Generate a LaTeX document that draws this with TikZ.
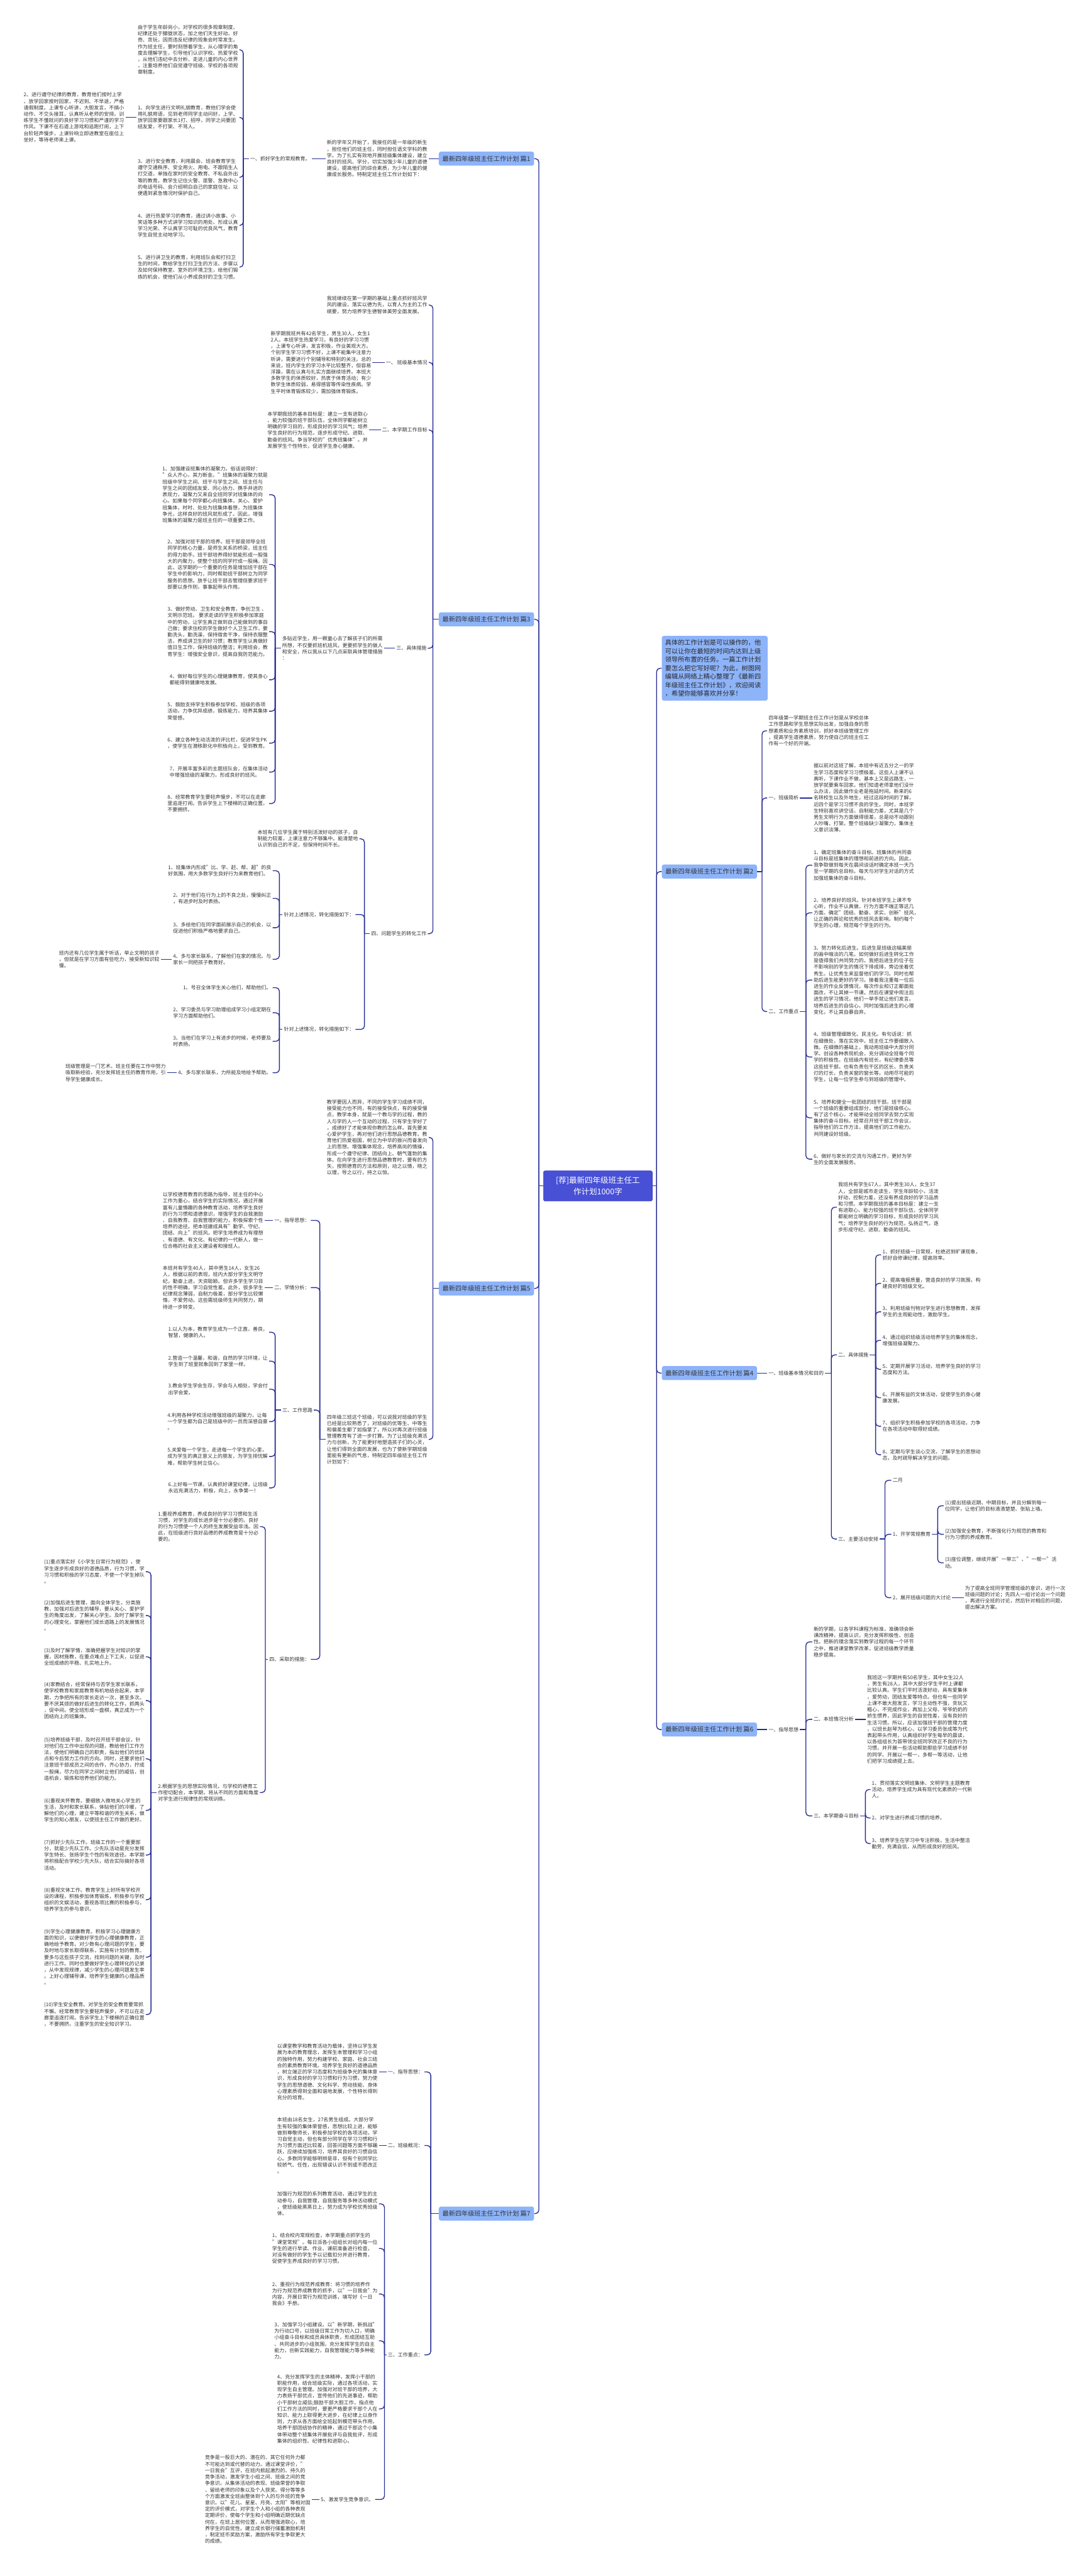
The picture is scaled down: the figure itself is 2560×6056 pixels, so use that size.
\documentclass[tikz,border=0pt]{standalone}
\usepackage{fontspec}
\setmainfont{Noto Sans CJK SC}
\usepackage{tikz}

\definecolor{linkc}{RGB}{40,46,148}
\definecolor{rootc}{RGB}{72,80,214}
\definecolor{rootd}{RGB}{60,66,190}
\definecolor{topicc}{RGB}{141,179,249}
\definecolor{inkc}{RGB}{51,51,51}

\tikzset{
  link/.style={draw=linkc, line width=2pt, rounded corners=8pt},
  txt/.style={font=\fontsize{11.8pt}{15.1pt}\selectfont, align=left, text=inkc, inner xsep=3pt, inner ysep=2pt},
  lnode/.style={txt, anchor=east},
  rnode/.style={txt, anchor=west},
  topic/.style={fill=topicc, rounded corners=5pt, minimum width=224pt, minimum height=33pt, inner sep=0pt, text=inkc, font=\fontsize{15pt}{18pt}\selectfont},
  root/.style={fill=rootc, draw=rootd, line width=1pt, rounded corners=4pt, minimum width=256pt, minimum height=71pt, align=center, text=white, font=\fontsize{18.5pt}{26.5pt}\selectfont},
  intro/.style={fill=topicc, rounded corners=5pt, anchor=west, align=left, text width=233pt, inner xsep=8pt, inner ysep=9pt, text=black!85, font=\fontsize{15pt}{20pt}\selectfont}
}

% fan of connectors from a parent to its children through one trunk
\newcommand{\fanL}[3]{%
  \draw[link] (#1.west) -- (#1.west -| #2,0);
  \foreach \kid in {#3}{\draw[link] (#1.west -| #2,0) |- (\kid.east);}}
\newcommand{\fanR}[3]{%
  \draw[link] (#1.east) -- (#1.east -| #2,0);
  \foreach \kid in {#3}{\draw[link] (#1.east -| #2,0) |- (\kid.west);}}

\begin{document}
\begin{tikzpicture}[x=1pt,y=-1pt]
	\fill[white] (0,0) rectangle (2560,6056);
	\useasboundingbox (0,0) rectangle (2560,6056);

	\node[root] (root) at (1406,2788) {[荐]最新四年级班主任工\\作计划1000字};

	\node[topic, anchor=east] (p1) at (1256,373) {最新四年级班主任工作计划 篇1};
	\node[topic, anchor=east] (p3) at (1256,1456) {最新四年级班主任工作计划 篇3};
	\node[topic, anchor=east] (p5) at (1256,3029) {最新四年级班主任工作计划 篇5};
	\node[topic, anchor=east] (p7) at (1256,5204) {最新四年级班主任工作计划 篇7};
	\node[intro] (intro) at (1556,1571) {具体的工作计划是可以操作的，他\\可以让你在最短的时间内达到上级\\领导所布置的任务。一篇工作计划\\要怎么把它写好呢？为此，树图网\\编辑从网络上精心整理了《最新四\\年级班主任工作计划》，欢迎阅读\\，希望你能够喜欢并分享！};
	\node[topic, anchor=west] (p2) at (1556,2049) {最新四年级班主任工作计划 篇2};
	\node[topic, anchor=west] (p4) at (1556,3228) {最新四年级班主任工作计划 篇4};
	\node[topic, anchor=west] (p6) at (1556,4066) {最新四年级班主任工作计划 篇6};

	\fanL{root}{1267}{p1,p3,p5,p7}
	\fanR{root}{1544}{intro,p2,p4,p6}

	% 篇1
	\node[lnode] (n1) at (1008,373) {新的学年又开始了，我接任的是一年级的新生\\，担任他们的班主任，同时担任语文学科的教\\学。为了扎实有效地开展班级集体建设，建立\\良好的班风、学分，切实加强少年儿童的道德\\建设，提高他们的综合素质，为少年儿童的健\\康成长服务。特制定班主任工作计划如下：};
	\node[lnode] (n1a) at (733,373) {一、抓好学生的常规教育。};
	\node[lnode] (n1a1) at (563,117) {由于学生年龄尚小，对学校的很多规章制度、\\纪律还处于朦胧状态，加之他们天生好动、好\\奇、贪玩，因而违反纪律的现象会时常发生。\\作为班主任，要时刻想着学生，从心理学的角\\度去理解学生，引导他们认识学校、热爱学校\\，从他们违纪中去分析、走进儿童的内心世界\\，注重培养他们自觉遵守班级、学校的各项规\\章制度。};
	\node[lnode] (n1a2) at (563,276) {1、向学生进行文明礼貌教育，教他们学会使\\用礼貌用语，见到老师同学主动问好，上学、\\放学回家要跟家长1打、招呼，同学之间要团\\结友爱，不打架、不骂人。};
	\node[lnode] (n1a2a) at (295,276) {2、进行遵守纪律的教育，教育他们按时上学\\、放学回家按时回家，不迟到、不早退，严格\\请假制度。上课专心听讲，大胆发言，不搞小\\动作、不交头接耳，认真听从老师的安排。训\\练学生不懂就问的良好学习习惯和严谨的学习\\作风。下课不在石道上游戏和追跑打闹，上下\\台阶轻声慢步，上课铃响立即进教室在座位上\\坐好，等待老师来上课。};
	\node[lnode] (n1a3) at (563,417) {3、进行安全教育，利用晨会、班会教育学生\\遵守交通秩序、安全用火、用电、不跟陌生人\\打交道，单独在家时的安全教育、不私自外出\\等的教育。教学生记住火警、匪警、急救中心\\的电话号码、会介绍明白自己的家庭住址，以\\便遇到紧急情况时保护自己。};
	\node[lnode] (n1a4) at (563,530) {4、进行热爱学习的教育，通过讲小故事、小\\笑话等多种方式讲学习知识的用处、形成认真\\学习光荣、不认真学习可耻的优良风气，教育\\学生自觉主动地学习。};
	\node[lnode] (n1a5) at (563,628) {5、进行讲卫生的教育，利用班队会和打扫卫\\生的时间，教给学生打扫卫生的方法、步骤以\\及如何保持教室、室外的环境卫生，给他们锻\\炼的机会，使他们从小养成良好的卫生习惯。};
	\draw[link] (p1.west) -- (n1.east);
	\draw[link] (n1.west) -- (n1a.east);
	\fanL{n1a}{572}{n1a1,n1a2,n1a3,n1a4,n1a5}
	\draw[link] (n1a2.west) -- (n1a2a.east);

	% 篇3
	\node[lnode] (n3a) at (1008,717) {我班继续在第一学期的基础上重点抓好班风学\\风的建设，落实以德为先，以育人为主的工作\\纲要，努力培养学生德智体美劳全面发展。};
	\node[lnode] (n3b) at (1008,852) {一、 班级基本情况};
	\node[lnode] (n3b1) at (876,852) {新学期我班共有42名学生，男生30人，女生1\\2人。本班学生热爱学习，有良好的学习习惯\\，上课专心听讲，发言积极，作业美观大方。\\个别学生学习习惯不好，上课不能集中注意力\\听讲，需要进行个别辅导和特别的关注。总的\\来说，班内学生的学习水平比较整齐，但容易\\浮躁，需在认真与扎实方面继续培养。本班大\\多数学生的体质较好，热衷于体育活动；有少\\数学生体质较弱，易得感冒等传染性疾病。学\\生平时体育锻炼较少，需加强体育锻炼。};
	\node[lnode] (n3c) at (1008,1011) {二、本学期工作目标};
	\node[lnode] (n3c1) at (868,1011) {本学期我班的基本目标是：建立一支有进取心\\、能力较强的班干部队伍，全体同学都能树立\\明确的学习目的，形成良好的学习风气；培养\\学生良好的行为规范，逐步形成守纪、进取、\\勤奋的班风。争当学校的"优秀班集体"。并\\发展学生个性特长，促进学生身心健康。};
	\node[lnode] (n3d) at (1006,1524) {三、具体措施};
	\node[lnode] (n3d1) at (903,1524) {多贴近学生，用一颗童心去了解孩子们的所需\\所想，不仅要抓班机班风，更要抓学生的做人\\和安全，所以我从以下几点采取具体管理措施\\：};
	\node[lnode] (n3d1a) at (633,1163) {1、加强建设班集体的凝聚力。俗话说得好：\\"众人齐心，其力断金。"班集体的凝聚力就是\\班级中学生之间、班干与学生之间、班主任与\\学生之间的团结友爱、同心协力、携手并进的\\表现力，凝聚力又来自全班同学对班集体的向\\心。如果每个同学都心向班集体，关心、爱护\\班集体，时时、处处为班集体着想，为班集体\\争光，这样良好的班风就形成了。因此，增强\\班集体的凝聚力是班主任的一项重要工作。};
	\node[lnode] (n3d1b) at (633,1327) {2、加强对班干部的培养。班干部是领导全班\\同学的核心力量，是师生关系的桥梁，班主任\\的得力助手。班干部培养得好就能形成一股强\\大的内聚力，使整个班的同学拧成一股绳。因\\此，这学期的一个重要的任务是增加班干部在\\学生中的影响力，同时帮助班干部树立为同学\\服务的思想。放手让班干部去管理但要求班干\\部要以身作则，事事起带头作用。};
	\node[lnode] (n3d1c) at (633,1485) {3、做好劳动、卫生和安全教育。争创卫生 、\\文明示范班。 要求走读的学生积极参加家庭\\中的劳动，让学生真正做到自己能做到的事自\\己做；要求住校的学生做好个人卫生工作，要\\勤洗头，勤洗澡，保持宿舍干净，保持衣服整\\洁，养成讲卫生的好习惯；教育学生认真做好\\值日生工作，保持班级的整洁；利用班会，教\\育学生：增强安全意识，提高自我防范能力。};
	\node[lnode] (n3d1d) at (633,1598) {4、做好每位学生的心理健康教育，使其身心\\都能得到健康地发展。};
	\node[lnode] (n3d1e) at (633,1672) {5、鼓励支持学生积极参加学校、班级的各项\\活动，力争优异成绩，锻炼能力，培养其集体\\荣誉感。};
	\node[lnode] (n3d1f) at (633,1747) {6、建立各种生动活泼的评比栏，促进学生PK\\，使学生在潜移默化中积极向上，受到教育。};
	\node[lnode] (n3d1g) at (633,1815) {7、开展丰富多彩的主题班队会，在集体活动\\中增强班级的凝聚力，形成良好的班风。};
	\node[lnode] (n3d1h) at (633,1889) {8、经常教育学生要轻声慢步，不可以在走廊\\里追逐打闹。告诉学生上下楼梯的正确位置，\\不要拥挤。};
	\node[lnode] (n3e) at (1006,2195) {四、问题学生的转化工作};
	\node[lnode] (n3e1) at (845,1972) {本班有几位学生属于特别活泼好动的孩子，自\\制能力较差，上课注意力不够集中。能清楚地\\认识到自己的不足，但保持时间不长。};
	\node[lnode] (n3e2) at (836,2150) {针对上述情况，转化措施如下：};
	\node[lnode] (n3e2a) at (641,2047) {1、班集体内形成"比、学、赶、帮、超"的良\\好氛围，用大多数学生良好行为来教育他们。};
	\node[lnode] (n3e2b) at (641,2112) {2、对于他们在行为上的不良之处，慢慢纠正\\，有进步时及时表扬。};
	\node[lnode] (n3e2c) at (641,2181) {3、多给他们在同学面前展示自己的机会，以\\促进他们积极严格地要求自己。};
	\node[lnode] (n3e2d) at (641,2255) {4、多与家长联系，了解他们在家的情况。与\\家长一同把孩子教育好。};
	\node[lnode] (n3e2e) at (378,2255) {班内还有几位学生属于听话，举止文明的孩子\\，但就是在学习方面有些吃力，接受新知识较\\慢。};
	\node[lnode] (n3e3) at (836,2420) {针对上述情况，转化措施如下：};
	\node[lnode] (n3e3a) at (641,2322) {1、号召全体学生关心他们，帮助他们。};
	\node[lnode] (n3e3b) at (641,2381) {2、学习委员与学习助理组成学习小组定期在\\学习方面帮助他们。};
	\node[lnode] (n3e3c) at (641,2448) {3、当他们在学习上有进步的时候，老师要及\\时表扬。};
	\node[lnode] (n3e3d) at (641,2522) {4、多与家长联系，力所能及地给予帮助。};
	\node[lnode] (n3e3e) at (393,2522) {班级管理是一门艺术。班主任要在工作中努力\\吸取新经验，充分发挥班主任的教育作用，引\\导学生健康成长。};
	\fanL{p3}{1018}{n3a,n3b,n3c,n3d,n3e}
	\draw[link] (n3b.west) -- (n3b1.east);
	\draw[link] (n3c.west) -- (n3c1.east);
	\draw[link] (n3d.west) -- (n3d1.east);
	\fanL{n3d1}{647}{n3d1a,n3d1b,n3d1c,n3d1d,n3d1e,n3d1f,n3d1g,n3d1h}
	\fanL{n3e}{857}{n3e1,n3e2,n3e3}
	\fanL{n3e2}{657}{n3e2a,n3e2b,n3e2c,n3e2d}
	\draw[link] (n3e2d.west) -- (n3e2e.east);
	\fanL{n3e3}{657}{n3e3a,n3e3b,n3e3c,n3e3d}
	\draw[link] (n3e3d.west) -- (n3e3e.east);

	% 篇5
	\node[lnode] (n5a) at (1008,2674) {教学要因人而异，不同的学生学习成绩不同，\\接受能力也不同，有的接受快点，有的接受慢\\点，教学本身，就是一个教与学的过程，教的\\人与学的人一个互动的过程，只有学生学好了\\，成绩好了才能体现你教的怎么样。首先要关\\心爱护学生，再对他们进行思想品德教育。教\\育他们热爱祖国，树立为中华的振兴而奋发向\\上的思想。增强集体观念，培养高尚的情操，\\形成一个遵守纪律、团结向上、朝气蓬勃的集\\体。在向学生进行思想品德教育时，要有的方\\矢，按照德育的方法和原则，动之以情，晓之\\以理，导之以行，持之以恒。};
	\node[lnode] (n5b) at (1008,3384) {四年级三班这个班级，可以说我对班级的学生\\已经是比较熟悉了，对班级的优等生、中等生\\和偏差生都了如指掌了，所以对再次进行班级\\管理教育有了进一步打算。为了让班级充满活\\力与创新，为了能更好地塑造孩子们的心灵，\\让他们得到全面的发展，也为了使新学期班级\\里能有更新的气息，特制定四年级班主任工作\\计划如下：};
	\node[lnode] (n5b1) at (731,2869) {一、指导思想：};
	\node[lnode] (n5b1a) at (622,2869) {以学校德育教育的思路为指导，班主任的中心\\工作为重心，结合学生的实际情况，通过开展\\富有儿童情趣的各种教育活动，培养学生良好\\的行为习惯和道德意识，增强学生的自我激励\\、自我教育、自我管理的能力，积极探索个性\\培养的途径。把本班建成具有"勤学、守纪、\\团结、向上"的班风，把学生培养成为有理想\\、有道德、有文化、有纪律的一代新人，做一\\位合格的社会主义建设者和接班人。};
	\node[lnode] (n5b2) at (731,3027) {二、学情分析：};
	\node[lnode] (n5b2a) at (622,3027) {本班共有学生40人，其中男生14人，女生26\\人，根据以前的表现，班内大部分学生文明守\\纪，勤奋上进，天资聪颖。但许多学生学习目\\的性不明确，学习自觉性差。此外，很多学生\\纪律观念薄弱，自制力极差，部分学生比较懒\\惰，不爱劳动。这些需班级师生共同努力，期\\待进一步转变。};
	\node[lnode] (n5b3) at (738,3315) {三、工作思路};
	\node[lnode] (n5b3a) at (633,3132) {1.以人为本，教育学生成为一个正直，善良，\\智慧，健康的人。};
	\node[lnode] (n5b3b) at (633,3200) {2.营造一个温馨，和谐，自然的学习环境，让\\学生到了班里就象回到了家里一样。};
	\node[lnode] (n5b3c) at (633,3266) {3.教会学生学会生存，学会与人相处，学会付\\出学会爱。};
	\node[lnode] (n5b3d) at (633,3342) {4.利用各种学校活动增强班级的凝聚力，让每\\一个学生都为自己是班级中的一员而深感自豪\\。};
	\node[lnode] (n5b3e) at (633,3424) {5.关爱每一个学生，走进每一个学生的心里，\\成为学生的真正意义上的朋友，为学生排忧解\\难，帮助学生树立信心。};
	\node[lnode] (n5b3f) at (633,3498) {6.上好每一节课，认真抓好课堂纪律，让班级\\永远充满活力，积极，向上，永争第一！};
	\node[lnode] (n5b4) at (731,3901) {四、采取的措施：};
	\node[lnode] (n5b4a) at (611,3589) {1.重视养成教育，养成良好的学习习惯和生活\\习惯，对学生的成长进步是十分必要的。良好\\的行为习惯使一个人的终生发展受益非浅。因\\此，在班级进行良好品德的养成教育是十分必\\要的。};
	\node[lnode] (n5b4b) at (611,4214) {2.根据学生的思想实际情况，与学校的德育工\\作密切配合，本学期，将从不同的方面和角度\\对学生进行规律性的常规训练。};
	\node[lnode] (m1) at (343,3695) {(1)重点落实好《小学生日常行为规范》，使\\学生逐步形成良好的道德品质，行为习惯，学\\习习惯和积极的学习态度，不使一个学生掉队\\。};
	\node[lnode] (m2) at (343,3798) {(2)加强后进生管理，面向全体学生，分类施\\教，加强对后进生的辅导，要从关心、爱护学\\生的角度出发，了解关心学生。及时了解学生\\的心理变化，掌握他们成长道路上的发展情况\\。};
	\node[lnode] (m3) at (343,3895) {(3)及时了解学情，准确把握学生对知识的掌\\握，因材施教，在重点难点上下工夫，以促进\\全班成绩的平稳、扎实地上升。};
	\node[lnode] (m4) at (343,3998) {(4)家教结合，经常保持与否学生家长联系，\\使学校教育和家庭教育有机地结合起来，本学\\期，力争把所有的家长走访一次，甚至多次。\\要不厌其烦的做好后进生的转化工作，抓两头\\，促中间。使全班形成一盘棋，真正成为一个\\团结向上的班集体。};
	\node[lnode] (m5) at (343,4135) {(5)培养班级干部，及时召开班干部会议，针\\对他们在工作中出现的问题，教给他们工作方\\法，使他们明确自己的职责，指出他们的优缺\\点和今后努力工作的方向。同时，还要求他们\\注意班干部成员之间的合作，齐心协力，拧成\\一股绳，尽力在同学之间树立他们的威信，创\\造机会，锻炼和培养他们的能力。};
	\node[lnode] (m6) at (343,4256) {(6)重视关怀教育。要细致入微地关心学生的\\生活，及时和家长联系，体贴他们的冷暖，了\\解他们的心理，建立平等和谐的师生关系，做\\学生的知心朋友，以使班主任工作做的更好。};
	\node[lnode] (m7) at (343,4361) {(7)抓好少先队工作。班级工作的一个重要部\\分，就是少先队工作。少先队活动是充分发挥\\学生特长、张扬学生个性的有效途径。本学期\\将积极配合学校少先大队，结合实际搞好各项\\活动。};
	\node[lnode] (m8) at (343,4466) {(8)重视文体工作。教育学生上好所有学校开\\设的课程，积极参加体育锻炼，积极参与学校\\组织的文娱活动，重视各项比赛的积极参与，\\培养学生的参与意识。};
	\node[lnode] (m9) at (343,4601) {(9)学生心理健康教育。积极学习心理健康方\\面的知识，以便做好学生的心理健康教育，正\\确地给予教育。对少数有心理问题的学生，要\\及时地与家长取得联系，实施有计划的教育。\\要多与这些孩子交流，找到问题的关键，及时\\进行工作。同时也要做好学生心理转化的记录\\，从中发现规律，减少学生的心理问题发生率\\。上好心理辅导课，培养学生健康的心理品质\\。};
	\node[lnode] (m10) at (343,4736) {(10)学生安全教育。对学生的安全教育要常抓\\不懈。经常教育学生要轻声慢步，不可以在走\\廊里追逐打闹。告诉学生上下楼梯的正确位置\\，不要拥挤。注重学生的安全知识学习。};
	\fanL{p5}{1018}{n5a,n5b}
	\fanL{n5b}{752}{n5b1,n5b2,n5b3,n5b4}
	\draw[link] (n5b1.west) -- (n5b1a.east);
	\draw[link] (n5b2.west) -- (n5b2a.east);
	\fanL{n5b3}{647}{n5b3a,n5b3b,n5b3c,n5b3d,n5b3e,n5b3f}
	\fanL{n5b4}{624}{n5b4a,n5b4b}
	\fanL{n5b4b}{355}{m1,m2,m3,m4,m5,m6,m7,m8,m9,m10}

	% 篇7
	\node[lnode] (n7a) at (998,4871) {一、指导思想：};
	\node[lnode] (n7a1) at (891,4871) {以课堂教学和教育活动为载体，坚持以学生发\\展为本的教育理念，发挥生本管理和学习小组\\的独特作用，努力构建学校、家庭、社会三结\\合的素质教育环境。培养学生良好的道德品质\\，树立端正的学习态度和为班级争光的集体意\\识，形成良好的学习习惯和行为习惯，努力使\\学生的思想道德、文化科学、劳动技能、身体\\心理素质得到全面和谐地发展，个性特长得到\\充分的培育。};
	\node[lnode] (n7b) at (998,5044) {二、班级概况：};
	\node[lnode] (n7b1) at (891,5044) {本班由18名女生，27名男生组成。大部分学\\生有较强的集体荣誉感，思想比较上进，能够\\做到尊敬师长，积极参加学校的各项活动，学\\习自觉主动，但也有部分同学在学习习惯和行\\为习惯方面还比较差，回答问题等方面不够踊\\跃，应继续加强练习，培养其良好的习惯自信\\心。多数同学能够明辨是非，但有个别同学比\\较娇气、任性，出现错误认识不到或不愿改正\\。};
	\node[lnode] (n7c) at (998,5536) {三、工作重点：};
	\node[lnode] (n7c1) at (891,5181) {加强行为规范的系列教育活动，通过学生的主\\动参与，自我管理，自我服务等多种活动模式\\，使班级能蒸蒸日上，努力成为学校优秀班级\\体。};
	\node[lnode] (n7c2) at (891,5286) {1、结合校内常规检查，本学期重点抓学生的\\"课堂常规"。每日派各小组组长对组内每一位\\学生的进行早读、作业、课前准备进行检查，\\对没有做好的学生予以记载扣分并进行教育，\\促使学生养成良好的学习习惯。};
	\node[lnode] (n7c3) at (891,5393) {2、重视行为规范养成教育：将习惯的培养作\\为行为规范养成教育的抓手，以"一日我会"为\\内容，开展日常行为规范训练，填写好《一日\\我会》手册。};
	\node[lnode] (n7c4) at (891,5503) {3、加强学习小组建设。以"新学期，新挑战"\\为行动口号，以班级日常工作为切入口，明确\\小组奋斗目标和成员具体职责，形成团结互助\\、共同进步的小组氛围，充分发挥学生的自主\\能力，创新实践能力，自我管理能力等多种能\\力。};
	\node[lnode] (n7c5) at (891,5663) {4、充分发挥学生的主体精神，发挥小干部的\\职能作用，结合班级实际，通过各项活动，实\\现学生自主管理。加强对对班干部的培养，大\\力表扬干部优点，宣传他们的先进事迹，帮助\\小干部树立威信;鼓励干部大胆工作，指点他\\们工作方法的同时，要更严格要求干部个人在\\知识、能力上取得更大进步，在纪律上以身作\\则，力求从各方面给全班起到模范带头作用，\\培养干部团结协作的精神，通过干部这个小集\\体带动整个班集体开展批评与自我批评，形成\\集体的组织性、纪律性和进取心。};
	\node[lnode] (n7c6) at (882,5876) {5、激发学生竞争意识。};
	\node[lnode] (n7c6a) at (733,5876) {竞争是一股巨大的、潜在的、其它任何外力都\\不可能达到或代替的动力。通过课堂评价，"\\一日我会"互评，在班内掀起激烈的、持久的\\竞争活动，激发学生小组之间、班级之间的竞\\争意识。从集体活动的表现、班级荣誉的争取\\、留给老师的印象以及个人获奖、得分等等多\\个方面激发全班由整体到个人的与外班的竞争\\意识。以"花儿、星星、月亮、太阳"等相对固\\定的评价模式，对学生个人和小组的各种表现\\定期评价，使每个学生和小组明确近期优缺点\\何在，在班上居何位置，从而增强进取心，培\\养学生的自觉性。建立成长银行储蓄激励机制\\，制定班币奖励方案，激励所有学生争取更大\\的成绩。};
	\fanL{p7}{1013}{n7a,n7b,n7c}
	\draw[link] (n7a.west) -- (n7a1.east);
	\draw[link] (n7b.west) -- (n7b1.east);
	\fanL{n7c}{904}{n7c1,n7c2,n7c3,n7c4,n7c5,n7c6}
	\draw[link] (n7c6.west) -- (n7c6a.east);

	% 篇2
	\node[rnode] (n2a) at (1804,1718) {四年级第一学期班主任工作计划是从学校总体\\工作思路和学生思想实际出发，加强自身的思\\想素质和业务素质培训，抓好本班级管理工作\\，提高学生道德素质，努力使自己的班主任工\\作有一个好的开端。};
	\node[rnode] (n2b) at (1804,1876) {一、班级简析};
	\node[rnode] (n2b1) at (1910,1876) {据以前对这班了解，本班中有近五分之一的学\\生学习态度和学习习惯极差。这些人上课不认\\真听，下课作业不做，基本上又是远路生，一\\放学就要乘车回家。他们知道老师拿他们没什\\么办法，因此做作业老是拖延时间。新来的6\\名转校生以及外地生，经过这段时间的了解，\\近四个是学习习惯不良的学生。同时，本班学\\生特别喜欢讲空话，自制能力差，尤其是几个\\男生文明行为方面做得很差，总是动不动跟别\\人吵嘴，打架。整个班级缺少凝聚力，集体主\\义意识淡薄。};
	\node[rnode] (n2c) at (1804,2378) {二、工作重点};
	\node[rnode] (n2c1) at (1910,2034) {1、确定班集体的奋斗目标。班集体的共同奋\\斗目标是班集体的理想和前进的方向。因此，\\我争取做到每天在晨间谈话时确定本班一天乃\\至一学期的总目标。每天与对学生对话的方式\\加强班集体的奋斗目标。};
	\node[rnode] (n2c2) at (1910,2146) {2、培养良好的班风。针对本班学生上课不专\\心听，作业不认真做，行为方面不端正等这几\\方面。确定"团结、勤奋、求实、创新"班风，\\让正确的舆论和优秀的班风去影响，制约每个\\学生的心理，规范每个学生的行为。};
	\node[rnode] (n2c3) at (1910,2304) {3、努力转化后进生。后进生是班级这幅美丽\\的画中暗淡的几笔。如何做好后进生转化工作\\是值得我们共同努力的。我把后进生的位子在\\不影响别的学生的情况下排成排，旁边坐着优\\秀生。让优秀生来监督他们的学习。同时也帮\\助后进生能更好的学习。接着我注重每一位后\\进生的作业反馈情况，每次作业和订正都面批\\面改，不让其掉一节课。然后在课堂中观注后\\进生的学习情况，他们一举手就让他们发言。\\培养后进生的自信心。同时加强后进生的心理\\变化，不让其自暴自弃。};
	\node[rnode] (n2c4) at (1910,2485) {4、班级管理细致化、民主化。有句话说：抓\\在细微处，落在实效中。班主任工作要细致入\\微。在细微的基础上，我动用班级中大部分同\\学。创设各种表现机会，充分调动全班每个同\\学的积极性。在班级内有班长，有纪律委员等\\这些班干部。也有负责包干区的区长，负责关\\灯的灯长，负责关窗的窗长等。动用尽可能的\\学生，让每一位学生参与到班级的管理中。};
	\node[rnode] (n2c5) at (1910,2628) {5、培养和健全一批团结的班干部。班干部是\\一个班级的重要组成部分，他们是班级核心。\\有了这个核心，才能带动全班同学去努力实现\\集体的奋斗目标。经常召开班干部工作会议，\\指导他们的工作方法，提高他们的工作能力。\\共同建设好班级。};
	\node[rnode] (n2c6) at (1910,2725) {6、做好与家长的交流与沟通工作，更好为学\\生的全面发展服务。};
	\fanR{p2}{1792}{n2a,n2b,n2c}
	\draw[link] (n2b.east) -- (n2b1.west);
	\fanR{n2c}{1895}{n2c1,n2c2,n2c3,n2c4,n2c5,n2c6}

	% 篇4
	\node[rnode] (n4a) at (1804,3228) {一、班级基本情况和目的};
	\node[rnode] (n4a1) at (1968,2838) {我班共有学生67人，其中男生30人，女生37\\人，全部是城市走读生，学生年龄较小，活泼\\好动，控制力差，还没有养成良好的学习品质\\和习惯。本学期我班的基本目标是：建立一支\\有进取心、能力较强的班干部队伍，全体同学\\都能树立明确的学习目标，形成良好的学习风\\气；培养学生良好的行为规范，弘扬正气，逐\\步形成守纪、进取、勤奋的班风。};
	\node[rnode] (n4a2) at (1968,3185) {二、具体措施};
	\node[rnode] (n4b1) at (2072,2950) {1、抓好班级一日常规，杜绝迟到旷课现象，\\抓好自修课纪律，提高效率。};
	\node[rnode] (n4b2) at (2072,3017) {2、提高墙报质量，营造良好的学习氛围，构\\建良好的班级文化。};
	\node[rnode] (n4b3) at (2072,3084) {3、利用班级刊物对学生进行思想教育，发挥\\学生的主观能动性，激励学生。};
	\node[rnode] (n4b4) at (2072,3151) {4、通过组织班级活动培养学生的集体观念，\\增强班级凝聚力。};
	\node[rnode] (n4b5) at (2072,3219) {5、定期开展学习活动，培养学生良好的学习\\态度和方法。};
	\node[rnode] (n4b6) at (2072,3286) {6、开展有益的文体活动，促使学生的身心健\\康发展。};
	\node[rnode] (n4b7) at (2072,3353) {7、组织学生积极参加学校的各项活动，力争\\在各项活动中取得好成绩。};
	\node[rnode] (n4b8) at (2072,3420) {8、定期与学生谈心交流，了解学生的思想动\\态，及时疏导解决学生的问题。};
	\node[rnode] (n4a3) at (1968,3618) {三、主要活动安排};
	\node[rnode] (n4c1) at (2096,3480) {二月};
	\node[rnode] (n4c2) at (2096,3607) {1、开学常规教育};
	\node[rnode] (n4d1) at (2219,3540) {(1)提出班级近期、中期目标，并且分解到每一\\位同学，让他们的目标清清楚楚、张贴上墙。};
	\node[rnode] (n4d2) at (2219,3607) {(2)加强安全教育，不断强化行为规范的教育和\\行为习惯的养成教育。};
	\node[rnode] (n4d3) at (2219,3674) {(3)座位调整，继续开展"一带三"、"一帮一"活\\动。};
	\node[rnode] (n4c3) at (2096,3756) {2、展开班级问题的大讨论};
	\node[rnode] (n4c3a) at (2266,3756) {为了提高全班同学管理班级的意识，进行一次\\班级问题的讨论；先四人一组讨论出一个问题\\，再进行全班的讨论，然后针对相应的问题，\\提出解决方案。};
	\draw[link] (p4.east) -- (n4a.west);
	\fanR{n4a}{1955}{n4a1,n4a2,n4a3}
	\fanR{n4a2}{2059}{n4b1,n4b2,n4b3,n4b4,n4b5,n4b6,n4b7,n4b8}
	\fanR{n4a3}{2081}{n4c1,n4c2,n4c3}
	\fanR{n4c2}{2205}{n4d1,n4d2,n4d3}
	\draw[link] (n4c3.east) -- (n4c3a.west);

	% 篇6
	\node[rnode] (n6a) at (1804,4066) {一、指导思想};
	\node[rnode] (n6a1) at (1910,3860) {新的学期，以各学科课程为标准，准确领会新\\课改精神，提高认识，充分发挥积极性、创造\\性。把新的理念落实到教学过程的每一个环节\\之中，推进课堂教学改革，促进班级教学质量\\稳步提高。};
	\node[rnode] (n6a2) at (1910,4042) {二、本班情况分析};
	\node[rnode] (n6a2a) at (2036,4042) {我班这一学期共有50名学生，其中女生22人\\，男生有28人，其中大部分学生平时上课都\\比较认真。学生们平时活泼好动，具有爱集体\\，爱劳动，团结友爱等特点。但也有一些同学\\上课不敢大胆发言，学习主动性不强，贪玩又\\粗心，不完成作业，再加上父母、爷爷奶奶的\\娇生惯养，因此学生的自觉性差，没有良好的\\生活习惯。所以，应该加强班干部的管理力度\\，以班长赵琴为核心，以学习委员张成等为代\\表起带头作用，认真组织好学生每早的晨读，\\以各组组长为首带领全班同学改正不良的行为\\习惯。并开展一些活动帮助那些学习成绩不好\\的同学。开展以一帮一，多帮一等活动，让他\\们把学习成绩提上去。};
	\node[rnode] (n6a3) at (1910,4269) {三、本学期奋斗目标};
	\node[rnode] (n6b1) at (2047,4207) {1、贯彻落实文明班集体、文明学生主题教育\\活动，培养学生成为具有现代化素质的一代新\\人。};
	\node[rnode] (n6b2) at (2047,4274) {2、对学生进行养成习惯的培养。};
	\node[rnode] (n6b3) at (2047,4334) {3、培养学生在学习中专注积极，生活中整洁\\勤劳，充满自信，从而形成良好的班风。};
	\draw[link] (p6.east) -- (n6a.west);
	\fanR{n6a}{1895}{n6a1,n6a2,n6a3}
	\draw[link] (n6a2.east) -- (n6a2a.west);
	\fanR{n6a3}{2035}{n6b1,n6b2,n6b3}
\end{tikzpicture}
\end{document}
